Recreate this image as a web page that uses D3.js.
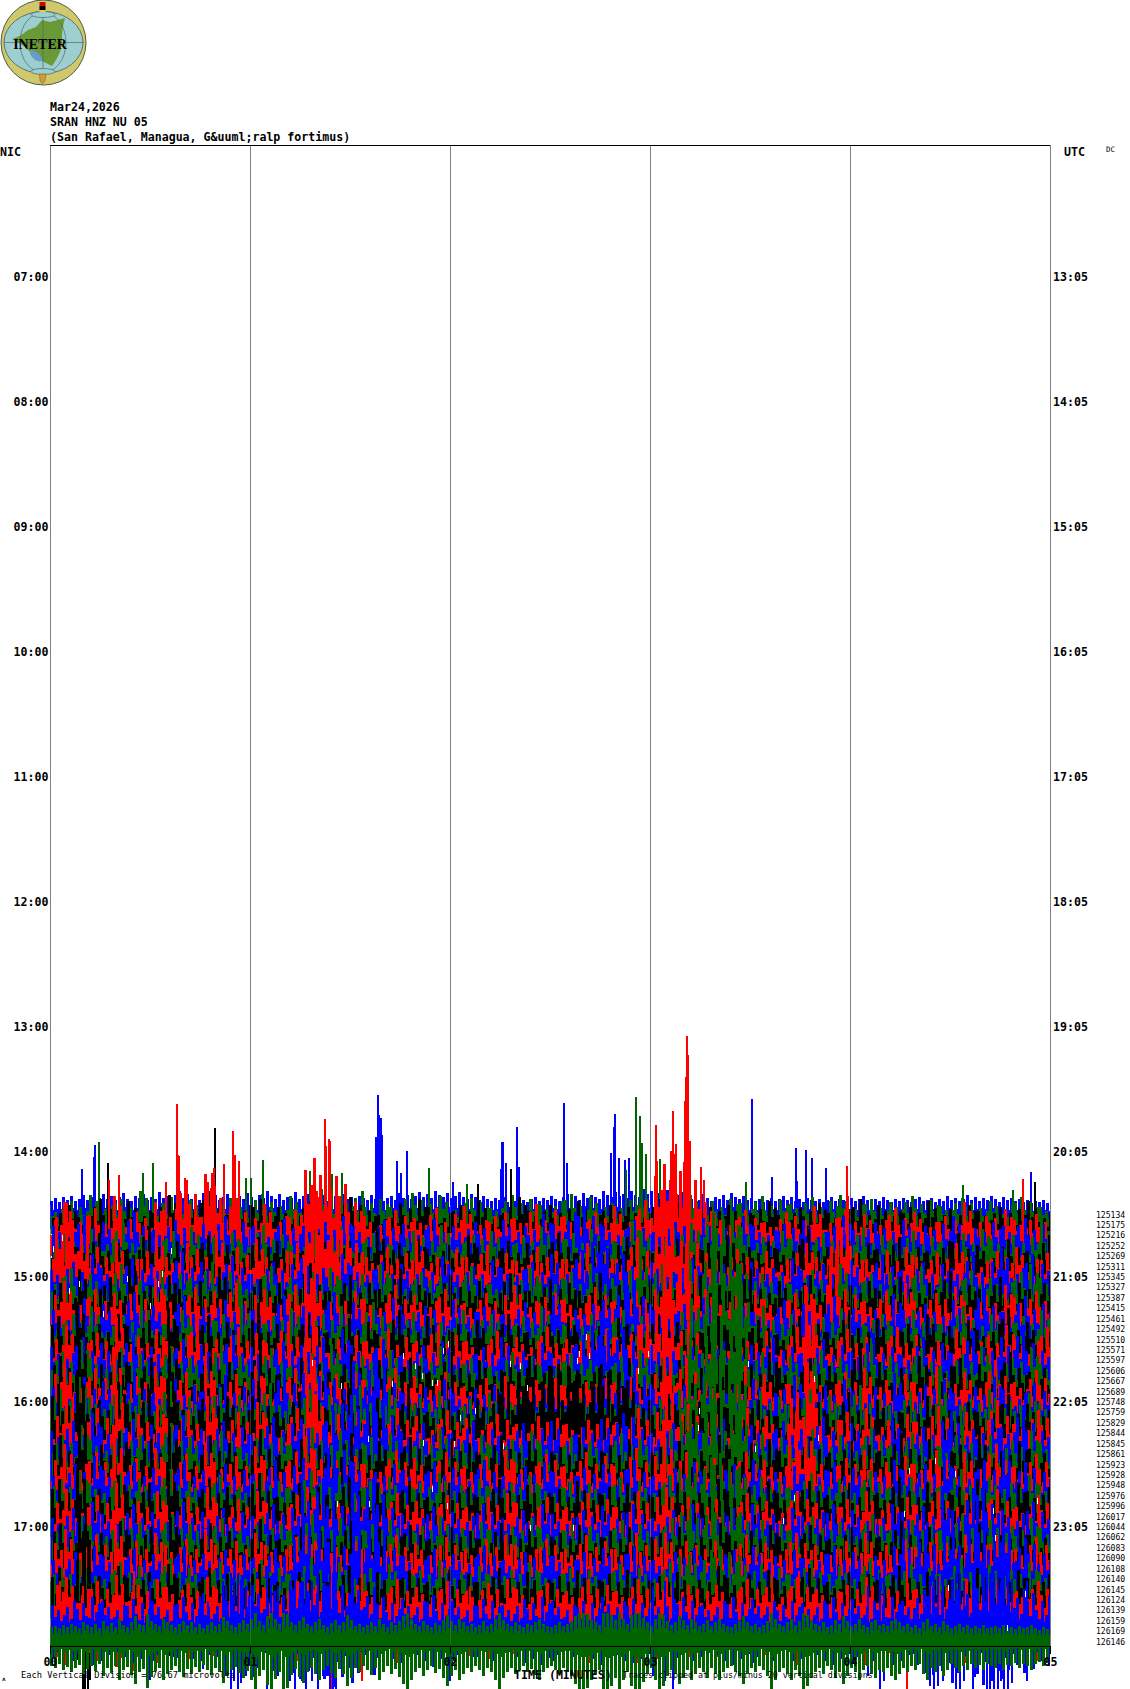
<!DOCTYPE html>
<html><head><meta charset="utf-8"><script src="https://cdn.jsdelivr.net/npm/d3@7"></script>
<style>html,body{margin:0;padding:0;background:#fff}svg{display:block}text{font-family:"DejaVu Sans Mono",monospace;font-weight:700;fill:#000}</style></head><body>
<script>
const titleLines=["Mar24,2026","SRAN HNZ NU 05","(San Rafael, Managua, G&uuml;ralp fortimus)"];
const hoursNIC=[7,8,9,10,11,12,13,14,15,16,17];
const hoursUTC=["13:05","14:05","15:05","16:05","17:05","18:05","19:05","20:05","21:05","22:05","23:05"];
const minuteTicks=[0,1,2,3,4,5];
const rowCounts=[125134,125175,125216,125252,125269,125311,125345,125327,125387,125415,125461,125492,125510,125571,125597,125606,125667,125689,125748,125759,125829,125844,125845,125861,125923,125928,125948,125976,125996,126017,126044,126062,126083,126090,126108,126140,126145,126124,126139,126159,126169,126146];
const palette=["#0000ff","#006400","#000000","#ff0000"];
// first trace: finer reading of the blue upper fringe
const trace00=[14,17,13,18,15,19,14,16,20,15,18,14,17,21,16,19,15,18,22,16,14,19,17,21,15,18,16,23,17,19,15,20,24,17,21,16,19,15,22,18,16,20,15,18,21,17,14,19,16,22,18,15,20,17,24,19,16,21,15,18,17,23,16,19,21,15,18,16,20,14,17,19,15,21,16,18,14,19,17,15,20,16,18,14,17,19,15,22,17,20,16,19,23,18,21,17,24,20,18,22,17,19,23,18,16,21,18,15,19,16,14,17,15,18,13,16,14,17,15,13,16,18,14,17,15,19,16,14,18,21,16,19,15,22,17,20,18,16,24,20,18,23,19,21,17,24,20,18,26,21,24,19,22,18,25,21,17,20,23,18,16,19,15,21,17,14,18,16,20,15,22,18,16,19,15,17,14,16,13,15,17,14,16,19,15,18,14,16,13,17,15,14,16,13,15,18,14,16,15,13,17,14,16,19,15,13,16,14,18,15,13,16,14,17,15,13,16,18,14,15,17,13,16,14,19,15,17,14,16,20,15,18,14,17,15,19,16,13,18,15,17,14,16,13,15,12,14,13,15,12];
const trace01=[16,24,18,30,20,26,17,34,22,28,19,25,33,21,27,18,31,23,19,29,24,36,20,28,34,22,26,18,32,25,21,29,19,27,23,17,30,22,26,20,24,31,19,28,22,17,25,33,21,27,20,30,24,18,26,22,29,19,25,21,28,18,24,30,20,26,17,23,29,21,25,19,27,22,17,24,20,28,23,18];
const trace02=[22,30,18,36,26,20,34,24,28,40,22,32,44,26,20,30,36,24,28,20,34,26,22,38,30,24,20,32,26,36,28,22,30,24,34,20,28,38,24,30,22,26,34,20,30,24,28,22,36,26,32,20,28,24,30,22,26,34,20,28,24,32,22,26,36,20,30,24,28,22,34,26,20,30,24,28,22,26,34,22];
const trace03=[26,44,30,38,22,50,34,28,44,36,66,52,72,60,48,34,28,42,30,36,76,88,70,62,44,30,26,36,30,28,38,24,32,40,26,30,34,28,42,26,36,30,24,34,28,40,30,46,70,82,94,66,44,32,26,36,28,24,34,30,26,40,28,36,24,32,26,38,28,34,24,30,26,44,30,28,36,26,32,24];
const trace04=[30,24,40,28,34,22,44,30,26,36,28,24,32,40,26,34,30,24,38,28,30,34,26,40,30,24,36,28,32,26,38,24,30,34,28,24,36,30,26,42,32,44,50,40,30,26,36,28,24,34,30,26,38,28,24,40,30,26,32,28,36,24,30,40,26,34,28,24,36,30,26,32,40,28,24,34,30,38,26,32];
const trace05=[34,26,22,38,28,44,24,32,26,36,22,40,30,26,34,24,42,28,32,22,36,26,30,40,24,34,28,22,36,30,26,42,24,32,28,36,22,30,26,40,28,34,24,38,26,30,46,36,28,40,32,44,54,48,52,40,30,26,36,28,22,34,26,30,40,24,32,28,36,22,30,26,34,24,38,28,32,24,30,44];
const trace06=[24,38,30,44,26,34,28,50,30,24,36,28,42,26,32,24,40,30,36,24,32,44,28,36,24,30,48,34,26,38,28,32,24,42,30,26,36,24,34,28,44,30,24,36,28,32,40,26,30,24,38,28,34,26,42,30,24,36,28,32,48,26,30,36,24,34,28,40,24,30,26,36,44,28,32,24,38,30,26,42];
const trace07=[70,84,66,40,30,46,28,36,52,30,44,38,30,56,40,32,48,30,36,44,80,96,86,72,44,30,40,28,34,46,30,26,38,30,42,28,34,26,40,30,36,28,44,30,36,28,50,36,60,76,58,44,34,28,38,30,26,36,28,34,44,30,52,76,34,28,36,26,40,30,34,28,44,30,26,36,30,40,28,34];
const trace08=[28,36,26,44,30,24,40,28,34,26,46,30,36,26,42,30,24,36,28,34,40,30,26,44,32,28,36,24,34,30,26,42,28,32,24,38,30,28,36,26,44,30,48,56,62,44,32,28,36,26,30,40,26,34,28,24,36,30,26,40,28,34,24,30,38,26,44,32,28,36,24,34,30,46,26,36,50,30,44,34];
const trace09=[30,40,26,34,24,44,30,28,38,24,34,30,46,28,36,24,32,42,26,30,36,24,40,28,34,26,44,30,24,36,28,32,26,42,30,24,34,28,40,26,30,36,24,44,30,28,38,52,44,36,28,48,58,64,56,44,34,26,32,24,38,28,30,44,26,34,24,36,30,42,26,32,28,38,24,30,26,36,44,30];
const trace10=[36,26,50,30,42,28,60,34,26,44,30,38,28,52,30,26,40,28,36,30,56,34,28,44,26,36,30,50,28,34,26,44,32,28,38,26,46,34,28,40,30,36,28,46,30,34,26,40,28,36,30,44,26,34,28,50,30,26,38,28,44,30,54,34,26,38,28,42,30,26,36,48,28,34,30,42,26,36,30,44];
const trace11=[34,48,30,40,28,36,44,30,50,34,28,42,30,38,46,28,34,40,30,44,64,48,34,28,38,30,26,44,30,34,28,40,30,26,36,28,34,44,28,32,36,30,26,42,34,28,38,30,40,72,86,60,40,30,34,26,38,30,28,36,44,30,80,40,34,28,38,30,46,28,36,30,42,28,34,26,44,32,38,28];
const trace12=[30,24,42,28,36,26,48,30,34,28,44,26,32,40,28,36,30,24,44,28,34,30,48,26,38,30,28,42,26,34,30,24,40,28,34,30,26,38,28,32,44,30,26,36,40,56,60,44,30,26,36,28,42,30,26,34,28,24,40,30,36,26,44,28,32,30,26,46,30,36,28,24,40,30,52,34,28,44,30,36];
const trace13=[26,36,30,44,24,34,28,50,26,32,40,24,30,36,28,46,26,34,30,42,24,36,30,44,26,48,34,28,38,24,32,28,40,26,30,36,24,34,28,44,26,30,24,36,28,40,26,34,30,24,38,52,66,70,74,60,44,30,26,36,24,32,28,42,26,30,36,24,40,28,32,26,44,30,24,36,28,34,26,40];
const trace14=[44,30,58,36,28,46,34,40,28,52,34,30,44,28,38,32,50,28,36,30,46,34,28,42,30,38,26,50,32,28,44,30,36,28,40,30,46,34,28,36,30,44,28,34,30,42,36,28,46,30,38,28,34,44,30,28,40,32,26,44,30,36,28,50,32,28,42,30,36,26,46,34,28,40,30,36,52,30,38,28];
const trace15=[32,46,28,38,30,54,34,28,42,30,36,48,28,32,44,30,38,28,50,34,60,44,32,28,36,30,42,26,34,30,46,28,36,30,26,40,28,34,30,44,28,32,36,30,42,34,46,58,66,60,50,38,30,26,36,30,28,40,26,44,84,36,30,42,28,34,30,44,28,36,30,26,42,30,36,28,46,32,30,44];
const trace16=[34,28,44,30,38,26,48,30,34,28,42,26,36,30,46,28,34,26,40,30,36,44,30,52,36,28,42,30,26,36,28,40,30,26,34,28,44,30,26,38,28,34,46,56,64,52,40,28,36,30,26,34,28,40,30,26,36,44,30,34,28,42,26,36,30,48,28,34,26,44,30,38,28,50,34,30,44,56,38,30];
const trace17=[40,30,52,34,28,44,30,38,26,46,30,34,28,50,30,36,28,44,30,26,38,30,48,28,36,30,26,42,28,34,30,46,28,34,30,26,40,28,36,26,30,38,28,32,26,36,28,42,34,30,46,58,70,76,72,56,40,30,26,36,28,42,30,34,26,48,30,36,28,44,30,26,38,30,46,28,34,30,44,28];
const trace18=[46,34,60,38,30,50,36,44,30,54,34,28,46,32,40,30,52,34,28,44,32,38,30,48,34,28,42,30,44,36,30,50,34,28,42,32,38,30,46,36,30,34,28,38,32,30,44,28,36,30,42,34,28,46,32,38,28,50,34,30,44,28,36,32,54,30,40,34,28,46,30,36,44,28,38,32,50,34,30,42];
const trace19=[38,50,30,44,34,56,36,30,46,34,40,28,52,32,38,30,46,34,30,44,70,52,38,30,40,32,28,44,30,36,28,40,30,26,34,28,36,26,32,28,34,26,30,28,34,30,44,30,38,66,54,40,30,36,28,46,32,38,28,36,52,34,28,40,30,44,32,28,38,30,46,34,28,40,30,52,36,30,42,34];
const trace20=[36,30,46,34,42,28,50,34,30,44,28,38,32,48,30,36,44,30,54,40,50,58,44,34,62,66,56,40,30,36,28,44,30,34,28,38,26,32,28,34,26,30,28,36,44,54,58,48,34,30,38,28,46,30,36,28,44,30,34,48,30,38,28,44,32,36,30,50,28,38,34,44,30,36,28,46,34,30,40,32];
const trace21=[44,32,56,36,30,48,34,40,28,52,30,36,28,46,32,38,30,50,28,34,44,30,38,28,48,30,34,44,28,36,30,42,26,34,28,40,30,34,28,32,26,30,34,28,32,30,36,28,34,30,44,62,72,78,74,60,42,30,36,28,44,32,38,28,48,30,34,28,42,30,36,50,28,34,30,44,32,28,40,30];
const trace22=[60,38,74,44,34,62,40,52,34,66,42,34,56,38,48,34,60,38,32,52,36,44,34,54,38,32,46,34,50,36,32,44,34,30,46,50,62,72,76,78,80,78,74,76,72,70,64,44,36,50,34,42,32,46,36,30,44,34,28,46,34,42,30,52,34,30,44,32,38,30,48,34,28,42,32,38,50,30,40,34];
const trace23=[38,56,32,46,36,64,40,32,50,36,44,30,58,36,42,32,52,36,30,46,76,60,40,32,42,34,30,46,34,38,30,44,32,36,30,40,34,30,38,32,36,30,34,30,36,32,46,34,42,62,50,38,32,40,30,46,34,38,30,62,92,46,34,42,30,46,34,30,40,32,48,36,30,42,34,54,38,32,44,36];
const trace24=[34,44,30,52,38,32,46,30,40,34,50,30,36,44,32,38,30,48,34,42,46,40,54,62,70,74,66,50,34,42,30,38,32,44,30,36,32,42,30,36,44,30,38,32,46,52,48,36,32,42,30,38,34,46,30,36,40,32,44,30,36,48,34,30,42,36,30,46,34,38,30,44,52,36,32,46,38,60,42,34];
const trace25=[40,32,50,36,30,46,34,40,30,52,34,38,30,44,34,28,46,32,38,30,48,34,30,44,32,38,30,42,28,36,30,46,32,28,40,30,36,30,44,32,28,38,30,34,28,42,30,36,30,46,54,66,76,80,74,62,42,30,38,30,46,32,28,40,30,48,34,30,42,32,36,28,50,32,30,40,34,28,44,32];
const trace26=[50,34,64,40,30,54,36,46,32,58,38,30,50,34,42,30,56,36,30,46,34,40,30,52,36,30,44,32,48,36,30,46,34,42,30,50,36,32,44,34,38,30,48,34,40,30,46,32,38,30,44,34,30,50,36,42,30,46,34,30,48,36,32,44,30,40,34,52,36,30,46,34,40,32,50,34,30,44,36,40];
const trace27=[36,52,32,44,34,60,38,30,48,34,42,30,54,34,40,30,50,36,30,44,60,46,36,30,40,32,30,46,34,38,30,44,34,30,40,32,46,34,30,42,36,30,44,32,40,30,48,34,40,58,44,34,30,38,30,44,32,36,30,84,68,40,30,38,32,46,34,30,40,32,46,36,30,44,34,52,36,30,42,34];
const trace28=[30,42,34,50,36,30,44,30,38,32,46,30,36,42,30,36,32,46,34,40,48,38,70,56,44,34,30,42,36,32,44,30,38,32,46,34,30,40,32,44,34,30,38,32,42,36,46,34,30,38,32,44,30,36,42,32,46,34,30,40,32,36,44,30,38,34,30,46,36,42,32,50,38,34,46,36,56,44,38,34];
const trace29=[38,30,46,34,30,44,32,38,30,48,32,36,30,42,32,30,44,32,36,30,46,34,30,42,30,36,30,40,30,34,30,44,32,30,38,30,34,30,42,32,30,36,30,34,30,40,30,36,30,42,48,54,60,64,58,50,40,30,36,30,44,32,30,38,30,46,34,30,40,30,36,30,48,32,30,40,34,30,42,32];
const trace30=[48,34,60,38,30,52,36,44,32,56,36,30,48,34,40,30,54,36,30,44,34,40,32,50,36,30,44,32,46,34,30,44,34,40,30,48,36,32,42,34,38,30,46,34,40,30,44,32,38,30,44,34,30,48,36,40,30,46,34,30,46,36,32,44,30,40,34,50,36,30,44,34,40,32,48,34,30,44,36,40];
const trace31=[34,48,30,42,34,54,36,30,46,32,40,30,50,34,38,30,46,34,30,42,50,40,34,30,38,30,28,44,32,36,30,42,34,30,40,32,44,34,30,40,34,30,44,32,38,30,46,34,40,50,40,34,30,38,30,44,32,36,30,46,38,34,30,38,32,46,34,30,40,32,46,36,30,44,34,48,36,30,42,34];
const trace32=[30,40,32,46,34,30,44,30,36,32,46,30,36,40,30,36,32,44,34,40,58,70,52,42,66,70,54,40,34,30,42,30,36,32,44,34,30,38,32,44,34,30,38,32,42,36,44,34,30,38,32,44,30,36,40,32,44,34,30,40,32,36,44,30,38,34,30,44,36,42,32,50,38,60,66,44,38,34,46,36];
const trace33=[34,28,42,32,28,40,30,36,28,44,30,34,28,40,30,28,42,30,34,28,44,32,28,40,28,34,28,38,28,32,28,42,30,28,36,28,32,28,40,30,28,34,28,32,28,38,28,34,28,40,46,50,54,58,52,46,38,28,34,28,42,30,28,36,28,44,32,28,38,28,34,28,44,30,28,38,32,28,40,30];
const trace34=[46,32,56,36,30,48,34,42,30,52,34,30,46,32,38,30,50,34,30,42,32,38,30,48,34,30,42,32,44,34,30,42,32,38,30,46,34,30,40,32,36,30,44,32,38,30,42,32,36,30,42,32,30,46,34,38,30,44,32,30,44,34,30,42,30,38,32,48,34,30,42,32,38,30,46,34,30,42,34,38];
const trace35=[36,50,32,44,34,54,38,30,46,34,40,30,50,34,38,30,46,34,30,42,44,38,32,30,38,30,28,44,32,36,30,42,34,30,40,32,44,34,30,40,34,30,44,32,38,30,46,34,40,46,38,34,30,38,30,44,32,36,30,46,36,34,30,38,32,46,34,30,40,32,46,36,30,44,34,44,36,30,42,34];
const trace36=[30,38,32,44,34,30,42,30,36,32,44,30,36,40,30,36,32,42,34,50,64,72,60,44,70,76,60,42,34,30,42,30,36,32,44,34,30,38,32,42,34,30,38,32,42,36,44,34,30,38,32,42,30,36,40,32,44,34,30,40,32,36,44,30,38,34,30,44,52,60,46,50,56,66,72,60,66,52,46,36];
const trace37=[32,26,40,30,26,38,28,34,26,42,28,32,26,38,28,26,40,28,32,26,42,30,26,38,26,32,26,36,26,30,26,40,28,26,34,26,30,26,38,28,26,32,26,30,26,36,26,32,26,38,44,46,50,54,48,44,36,26,32,26,40,28,26,34,26,42,30,26,36,26,32,26,42,28,26,36,30,26,38,28];
const trace38=[42,30,50,34,28,44,32,38,28,46,32,28,42,30,36,28,46,32,28,38,30,36,28,44,32,28,38,30,40,32,28,40,30,36,28,42,32,28,38,30,34,28,40,30,36,28,40,30,34,28,38,30,28,44,32,36,28,40,30,28,42,32,28,38,28,36,30,44,32,28,38,30,36,28,42,32,28,40,32,36];
const trace39=[36,44,32,40,32,46,36,30,42,34,38,30,44,32,36,30,42,32,30,40,38,36,30,28,36,30,28,42,30,34,30,40,32,30,38,32,42,32,30,38,32,30,42,32,36,30,42,32,38,44,36,32,30,36,30,42,32,34,30,44,34,32,30,36,32,44,32,30,38,32,44,34,30,42,32,40,34,30,40,32];
const trace40=[26,30,28,34,30,26,32,28,30,26,34,28,30,32,36,44,46,40,36,42,50,48,56,46,52,44,34,28,32,30,36,28,30,26,32,30,26,32,28,34,30,26,30,28,34,30,32,28,30,32,34,30,26,30,34,28,32,30,26,30,28,30,34,28,32,30,26,34,30,42,44,40,52,46,54,50,48,42,38,30];
// last trace: finer reading of the green lower fringe
const trace41=[24,26,22,28,25,30,26,23,32,27,24,29,22,34,26,31,24,38,28,25,33,42,30,27,46,35,29,26,38,32,28,24,30,35,27,32,25,30,23,28,33,26,30,41,34,28,25,31,36,29,38,47,34,28,43,47,37,30,47,46,33,27,35,41,30,26,32,38,28,24,31,36,27,32,44,36,26,30,24,28,33,26,38,30,24,32,27,35,42,47,38,30,26,34,28,24,31,27,36,44,34,28,38,32,26,30,24,28,34,26,30,38,47,36,30,26,32,28,24,30,27,33,38,30,26,24,28,32,26,30,34,42,47,47,46,38,32,28,47,47,44,36,47,38,30,44,47,47,40,32,26,38,47,44,34,28,32,42,36,28,38,32,26,30,36,26,32,38,30,26,24,30,34,42,32,26,30,24,28,34,47,38,30,26,32,38,28,34,47,44,36,30,26,32,24,28,36,30,42,34,26,30,38,28,24,32,36,28,30,26,34,38,32,26,30,24,28,22,32,38,26,30,24,34,28,22,26,30,24,28,22,26,23,28,22,24,26,22,28,23,24,21,26,22,24,28,22,20,24,21];
const traceValues=[trace00,trace01,trace02,trace03,trace04,trace05,trace06,trace07,trace08,trace09,trace10,trace11,trace12,trace13,trace14,trace15,trace16,trace17,trace18,trace19,trace20,trace21,trace22,trace23,trace24,trace25,trace26,trace27,trace28,trace29,trace30,trace31,trace32,trace33,trace34,trace35,trace36,trace37,trace38,trace39,trace40,trace41];
// individual excursions: [minute, amplitude]
const spikesBlue=[[.16,46],[.225,70],[.22,58],[1.64,120],[1.645,100],[1.655,97],[1.63,78],[1.66,80],[1.735,54],[1.785,64],[1.755,42],[2.26,73],[2.265,73],[2.255,46],[2.335,88],[2.345,48],[2.28,52],[2.015,33],[2.57,112],[2.585,52],[2.825,101],[2.82,88],[2.805,62],[2.845,57],[2.875,55],[2.895,57],[3.51,116],[3.61,38],[3.73,67],[3.735,34],[3.78,65],[3.81,57],[3.88,47],[4.905,43]];
const spikesGreen=[[.245,83],[.515,62],[.465,52],[1.065,65],[.98,47],[1.005,47],[1.3,54],[1.41,51],[1.46,52],[1.895,57],[2.085,41],[2.93,128],[2.95,109],[2.96,82],[2.98,71],[3.05,66],[2.88,55],[3.48,43],[4.565,40],[4.815,35]];
const spikesBlack=[[.29,72],[.825,107],[2.14,51],[2.305,66],[4.925,53]];
const spikesRed=[[.635,142],[.64,91],[.645,90],[.295,66],[.345,71],[.58,64],[.675,68],[.87,82],[.82,78],[.81,73],[.79,64],[.915,115],[.925,91],[.945,85],[1.375,127],[1.38,100],[1.395,107],[1.4,105],[1.35,51],[3.03,121],[3.035,85],[3.115,135],[3.105,95],[3.13,102],[3.125,92],[3.185,210],[3.19,191],[3.18,169],[3.175,145],[3.17,84],[3.2,105],[3.255,79],[3.27,66],[3.985,80],[3.99,50],[4.865,67]];
const fringeBlue=[[.5,49],[.75,35],[.765,38],[.79,30],[.865,50],[.88,45],[.905,58],[.92,50],[.94,58],[.955,52],[.98,45],[1.085,58],[1.105,55],[1.14,45],[1.2,50],[1.225,58],[1.25,48],[1.28,58],[1.31,50],[1.34,58],[1.365,45],[1.4,58],[1.415,58],[1.43,58],[2,50],[3.015,45],[3.075,50],[3.115,58],[4.09,45],[4.15,58],[4.17,50],[4.4,55],[4.42,58],[4.44,55],[4.465,50],[4.53,58],[4.55,58],[4.57,50],[4.615,58],[4.685,58],[4.7,58],[4.72,58],[4.74,58],[4.755,50],[4.77,58],[4.79,58],[4.81,52],[4.885,50],[4.995,35]];
const fringeRed=[[.05,40],[.165,35],[.42,50],[1.41,68],[1.56,60],[2.1,35],[3.61,60],[3.745,50],[4.285,68]];
const fringeBlack=[[.165,79],[.175,79],[.19,79],[.2,70]];
// white specks between strokes: [minute, hour]
const specks=[[1.308,15.677],[1.453,15.864],[1.592,16.291],[1.708,15.851],[1.767,15.624],[1.825,15.704],[1.862,15.784],[1.908,15.837],[1.933,15.837],[1.967,15.584],[1.992,15.531],[2.05,16.117],[2.125,16.064],[2.02,16.331],[1.912,16.691],[1.987,16.824],[1.867,16.317],[1.595,16.811],[1.437,16.811],[2.35,15.704],[2.3,15.691],[2.387,15.877],[2.263,16.344],[2.4,16.997],[2.617,16.997],[2.68,15.472],[2.647,15.611],[2.693,15.624],[2.637,15.664],[2.942,15.744],[2.988,15.611],[3.242,16.197],[3.247,16.064],[3.525,16.371],[3.492,15.691],[3.667,16.944],[3.82,15.811],[3.72,16.757],[3.842,16.277],[.058,14.677],[.017,14.771],[.097,15.104],[.147,15.051],[.267,15.291],[.387,15.011],[.5,15.224],[.562,14.971],[.603,14.784],[.542,15.051],[4.297,16.544],[4.525,16.571],[4.425,16.464],[4.717,16.864],[4.725,17.077],[4.27,16.891],[4.492,17.477],[4.875,17.531],[4.783,17.797],[4.933,16.784]];
const stickShare=[1,.55,.8,.4];

const W=1130,H=1689;
const x=d3.scaleLinear().domain([0,5]).range([50,1050]);
const rowY=d3.scaleLinear().domain([6,18]).range([152,1652]);
const amp=d3.scaleLinear().domain([0,100]).range([0,100]);
const svg=d3.select("body").append("svg").attr("width",W).attr("height",H).attr("viewBox",`0 0 ${W} ${H}`);
svg.append("defs").append("clipPath").attr("id","plot").append("rect").attr("x",x(0)).attr("y",0).attr("width",x(5)-x(0)).attr("height",H);

// logo
const logo=svg.append("g");
logo.append("circle").attr("cx",43.5).attr("cy",42.5).attr("r",42.5).attr("fill","#cfc96c").attr("stroke","#4b5a45");
logo.append("ellipse").attr("cx",43.5).attr("cy",42.5).attr("rx",39.5).attr("ry",31).attr("fill","#9dced0").attr("stroke","#5d7272");
logo.append("polygon").attr("points","12,39 20,36 28,30 36,27 42,20 50,22 58,20 65,18 63,26 62,35 62,44 60,52 56,60 52,66 44,62 36,58 30,52 24,46").attr("fill","#699a35");
logo.append("ellipse").attr("cx",36).attr("cy",56).attr("rx",7.5).attr("ry",3.5).attr("transform","rotate(40 36 56)").attr("fill","#6a9bc9");
logo.append("ellipse").attr("cx",43).attr("cy",42.5).attr("rx",23).attr("ry",30).attr("fill","none").attr("stroke","#506868").attr("stroke-width",.7);
logo.append("line").attr("x1",4).attr("x2",84).attr("y1",42.5).attr("y2",42.5).attr("stroke","#506868").attr("stroke-width",.7);
logo.append("line").attr("x1",43).attr("x2",43).attr("y1",12).attr("y2",74).attr("stroke","#506868").attr("stroke-width",.7);
logo.append("ellipse").attr("cx",43).attr("cy",14.5).attr("rx",12).attr("ry",3).attr("fill","#9dced0").attr("stroke","#506868").attr("stroke-width",.7);
logo.append("ellipse").attr("cx",43).attr("cy",71.5).attr("rx",12).attr("ry",3).attr("fill","#9dced0").attr("stroke","#506868").attr("stroke-width",.7);
logo.append("rect").attr("x",39.5).attr("y",2).attr("width",6).attr("height",4).attr("fill","#d40000");
logo.append("rect").attr("x",39.5).attr("y",6).attr("width",6).attr("height",4).attr("fill","#000");
logo.append("rect").attr("x",39.5).attr("y",10).attr("width",6).attr("height",2).attr("fill","#e8d030");
logo.append("polygon").attr("points","39.5,74 46,74 45,81 42.5,84 40,81").attr("fill","#d39a3a").attr("stroke","#6a5a20").attr("stroke-width",.5);
logo.append("text").attr("x",40).attr("y",49).attr("text-anchor","middle").style("font-family","'Liberation Serif',serif").style("font-size","14px").style("font-weight",700).text("INETER");

// header text
svg.selectAll("text.title").data(titleLines).join("text").attr("class","title").attr("x",50).attr("y",(d,i)=>111+i*15).style("font-size","11.6px").text(d=>d);
svg.append("text").attr("x",0).attr("y",156).style("font-size","11.6px").text("NIC");
svg.append("text").attr("x",1064).attr("y",156).style("font-size","11.6px").text("UTC");
svg.append("text").attr("x",1106).attr("y",152).style("font-size","7.5px").style("font-weight",400).text("DC");
svg.selectAll("text.nic").data(hoursNIC).join("text").attr("class","nic").attr("x",48.5).attr("y",d=>rowY(d)+4).attr("text-anchor","end").style("font-size","11.6px").text(d=>`${d<10?"0":""}${d}:00`);
svg.selectAll("text.utc").data(hoursUTC).join("text").attr("class","utc").attr("x",1053).attr("y",(d,i)=>rowY(hoursNIC[i])+4).style("font-size","11.6px").text(d=>d);
const rowTime=i=>14.5+i/12;
svg.selectAll("text.cnt").data(rowCounts).join("text").attr("class","cnt").attr("x",1096).attr("y",(d,i)=>rowY(rowTime(i))+3).style("font-size","8.1px").style("font-weight",400).text(d=>d);

// grid
const grid=svg.append("g").attr("stroke","#808080").attr("shape-rendering","crispEdges");
grid.selectAll("line").data(minuteTicks).join("line").attr("x1",d=>x(d)+.5).attr("x2",d=>x(d)+.5).attr("y1",145).attr("y2",1645);
svg.append("line").attr("x1",x(0)).attr("x2",x(5)).attr("y1",145.5).attr("y2",145.5).attr("stroke","#000").attr("shape-rendering","crispEdges");

// traces
const tg=svg.append("g").attr("clip-path","url(#plot)").attr("shape-rendering","crispEdges");
const extra=[[spikesBlue,0],[spikesGreen,1],[spikesBlack,2],[spikesRed,3],[fringeBlack,38],[fringeRed,39],[fringeBlue,40]];
traceValues.forEach((vals,i)=>{
  const base=rowY(rowTime(i)),col=palette[i%4],n=vals.length,fine=n>100;
  const phase=(i*0.381)%1;
  const g=tg.append("g").attr("fill",col);
  const cx=c=>x(c/n*5);
  const upShare=i===41?.6:1;
  const coreShare=fine?.32:.3;
  // solid middle of the trace
  g.selectAll("rect.core").data(vals).join("rect").attr("class","core")
    .attr("x",(d,c)=>cx(c+phase)).attr("width",(d,c)=>cx(c+1)-cx(c)+.3)
    .attr("y",d=>base-amp(d)*coreShare).attr("height",d=>2*amp(d)*coreShare);
  if(fine){
    g.selectAll("rect.bar").data(vals).join("rect").attr("class","bar")
      .attr("x",(d,c)=>cx(c)).attr("width",3)
      .attr("y",d=>base-amp(d)*upShare).attr("height",d=>amp(d)*(1+upShare));
  }else{
    // one value is the column envelope: strokes of that column fill it
    const sticks=vals.flatMap((v,c)=>stickShare.map((s,k)=>({c:c+(k+phase)/4,h:v*stickShare[(k+c+i)%4]})));
    g.selectAll("rect.bar").data(sticks).join("rect").attr("class","bar")
      .attr("x",d=>cx(d.c)).attr("width",3)
      .attr("y",d=>base-amp(d.h)).attr("height",d=>2*amp(d.h));
  }
  extra.filter(e=>e[1]===i).forEach(([list])=>{
    g.selectAll("rect.sp").data(list).join("rect").attr("class","sp")
      .attr("x",d=>x(d[0])-.75).attr("width",1.6)
      .attr("y",d=>base-amp(d[1])).attr("height",d=>2*amp(d[1]));
  });
});
tg.append("g").attr("fill","#fff").selectAll("rect").data(specks).join("rect").attr("x",d=>x(d[0])).attr("width",1).attr("y",d=>rowY(d[1])-2).attr("height",6);
// grid shows through the trace block
svg.append("g").attr("stroke","#808080").attr("stroke-opacity",.35).attr("shape-rendering","crispEdges").selectAll("line").data(minuteTicks).join("line").attr("x1",d=>x(d)+.5).attr("x2",d=>x(d)+.5).attr("y1",1205).attr("y2",1645);

// axis and footer text above the traces
const ax=svg.append("g").attr("transform","translate(0,1645.5)").call(d3.axisBottom(x).tickValues(minuteTicks).tickFormat(d=>"0"+d).tickSizeOuter(0).tickSize(8));
ax.selectAll("text").attr("y",20).attr("dy",0).style("font-size","11.6px").style("font-family","'DejaVu Sans Mono',monospace").style("font-weight",700);
ax.select(".domain").attr("stroke","#000").attr("shape-rendering","crispEdges");
svg.append("text").attr("x",2).attr("y",1681).style("font-size","6px").text("\u028c");
svg.append("text").attr("x",21).attr("y",1678).style("font-size","8.7px").style("font-weight",400).text("Each Vertical Division = 76.67 microvolts");
svg.append("text").attr("x",514).attr("y",1679).style("font-size","11.6px").text("TIME (MINUTES)");
svg.append("text").attr("x",623).attr("y",1678).style("font-size","8.3px").style("font-weight",400).text("Traces clipped at plus/minus 20 vertical divisions");
</script></body></html>
